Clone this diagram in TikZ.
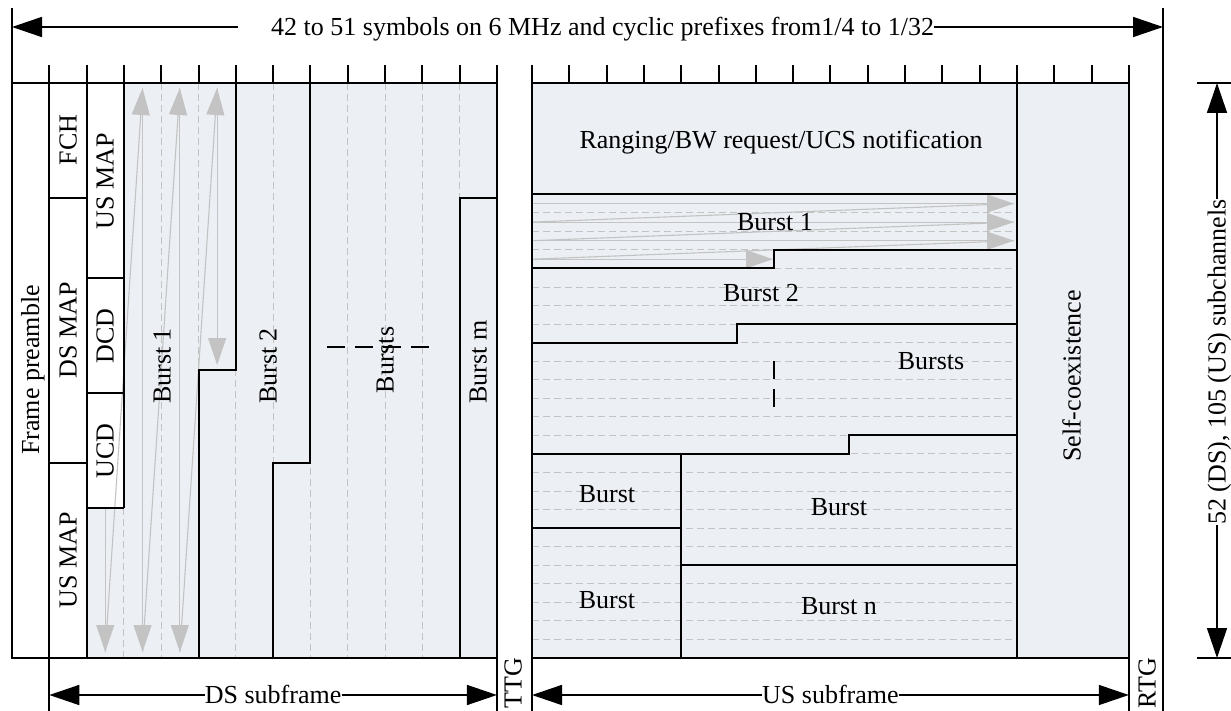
\documentclass[tikz,border=0pt]{standalone}
\usepackage{fontspec}
\setmainfont{Liberation Serif}
\usetikzlibrary{arrows.meta}
\definecolor{shadefill}{RGB}{236,239,244}
\definecolor{garrow}{RGB}{195,195,195}
\definecolor{gdash}{RGB}{195,195,195}
\tikzset{
  frame/.style={line width=2pt,black},
  dimarrow/.style={line width=1.6pt,-{Triangle[length=30pt,width=20pt]}},
  garr/.style={draw=garrow,line width=1.1pt,-{Triangle[length=27pt,width=18pt,fill=garrow]}},
  gline/.style={draw=garrow,line width=1.1pt},
  gdashed/.style={draw=gdash,line width=1pt,dash pattern=on 7pt off 4pt},
  bdash/.style={line width=2pt,black},
  lbl/.style={font=\fontsize{26}{31}\selectfont,inner sep=0pt,text height=17pt,text depth=0pt,anchor=center},
  vlbl/.style={lbl,rotate=90},
}
\begin{document}
\begin{tikzpicture}[x=1pt,y=-1pt]
\useasboundingbox (0,0) rectangle (1231,711);
% ---------- shaded areas
\fill[shadefill] (123.9,83) -- (496.9,83) -- (496.9,658) -- (86.6,658) -- (86.6,508) -- (123.9,508) -- cycle;
\fill[shadefill] (532,83) rectangle (1128.8,658);
% ---------- dashed grid
\foreach \i in {4,...,12} \draw[gdashed] ({12+\i*37.3},83) -- ({12+\i*37.3},658);
\draw[gdashed] (123.9,508) -- (123.9,658);
\foreach \k in {7,...,30} \draw[gdashed] (532,{83+\k*18.548}) -- (1016.9,{83+\k*18.548});
% ---------- gray arrows DS burst 1
\coordinate (a0) at (105.25,508);
\coordinate (a1) at (105.25,652);
\coordinate (b0) at (142.55,88);
\coordinate (b1) at (142.55,652);
\coordinate (c0) at (179.85,88);
\coordinate (c1) at (179.85,652);
\coordinate (d0) at (217.15,88);
\coordinate (d1) at (217.15,365);
\draw[garr] (a0) -- (a1);
\draw[garr] (a1) -- (b0);
\draw[garr] (b0) -- (b1);
\draw[garr] (b1) -- (c0);
\draw[garr] (c0) -- (c1);
\draw[garr] (c1) -- (d0);
\draw[garr] (d0) -- (d1);
% ---------- gray arrows US burst 1
\coordinate (r6l) at (532,203.6);   \coordinate (r6r) at (1014,203.6);
\coordinate (r7l) at (532,222.1);   \coordinate (r7r) at (1014,222.1);
\coordinate (r8l) at (532,240.7);   \coordinate (r8r) at (1014,240.7);
\coordinate (r9l) at (532,259.2);   \coordinate (r9r) at (773,259.2);
\draw[garr] (r6l) -- (r6r);
\draw[garr] (r7l) -- (r7r);
\draw[garr] (r8l) -- (r8r);
\draw[garr] (r9l) -- (r9r);
\draw[gline] (r7l) -- (r6r);
\draw[gline] (r8l) -- (r7r);
\draw[gline] (r9l) -- (r8r);
% ---------- DS solid lines
\draw[frame] (12,8) -- (12,658) -- (496.9,658);
\draw[frame] (12,83) -- (496.9,83);
\draw[frame] (49.3,65) -- (49.3,711);
\draw[frame] (86.6,65) -- (86.6,658);
\draw[frame] (123.9,65) -- (123.9,508);
\draw[frame] (496.9,65) -- (496.9,711);
\draw[frame] (49.3,198) -- (86.6,198);
\draw[frame] (49.3,463) -- (86.6,463);
\draw[frame] (86.6,278) -- (123.9,278);
\draw[frame] (86.6,393) -- (123.9,393);
\draw[frame] (86.6,508) -- (123.9,508);
\draw[frame] (235.8,83) -- (235.8,370) -- (198.5,370) -- (198.5,658);
\draw[frame] (310.4,83) -- (310.4,463) -- (273.1,463) -- (273.1,658);
\draw[frame] (459.6,658) -- (459.6,198) -- (496.9,198);
\foreach \i in {0,...,13} \draw[frame] ({12+\i*37.3},65) -- ({12+\i*37.3},83);
% dashes in DS bursts
\draw[bdash] (327,347) -- (345,347);
\draw[bdash] (355,347) -- (373,347);
\draw[bdash] (383,347) -- (401,347);
\draw[bdash] (411,347) -- (429,347);
% ---------- US solid lines
\draw[frame] (532,65) -- (532,711);
\draw[frame] (1128.8,65) -- (1128.8,711);
\draw[frame] (532,83) -- (1128.8,83);
\draw[frame] (532,658) -- (1128.8,658);
\draw[frame] (1016.9,83) -- (1016.9,658);
\draw[frame] (532,194.3) -- (1016.9,194.3);
\draw[frame] (532,268.5) -- (774.45,268.5) -- (774.45,249.9) -- (1016.9,249.9);
\draw[frame] (532,342.7) -- (737.15,342.7) -- (737.15,324.1) -- (1016.9,324.1);
\draw[frame] (532,454) -- (849.05,454) -- (849.05,435.4) -- (1016.9,435.4);
\draw[frame] (532,528.2) -- (681.2,528.2);
\draw[frame] (681.2,454) -- (681.2,658);
\draw[frame] (681.2,565.3) -- (1016.9,565.3);
\foreach \j in {0,...,16} \draw[frame] ({532+\j*37.3},65) -- ({532+\j*37.3},83);
\draw[bdash] (774.45,361) -- (774.45,379);
\draw[bdash] (774.45,389) -- (774.45,407);
% ---------- outer lines
\draw[frame] (1163,8) -- (1163,711);
\draw[frame] (1197,83) -- (1231,83);
\draw[frame] (1197,658) -- (1231,658);
% ---------- DS labels
\node[vlbl] (fp) at (30.6,370) {Frame preamble};
\node[vlbl] (fch) at (68,140) {FCH};
\node[vlbl] (dsmap) at (68,330) {DS MAP};
\node[vlbl] (usmapa) at (68,560) {US MAP};
\node[vlbl] (usmapb) at (105.2,181) {US MAP};
\node[vlbl] (dcd) at (105.2,336) {DCD};
\node[vlbl] (ucd) at (105.2,451) {UCD};
\node[vlbl] (dsb1) at (162,366) {Burst 1};
\node[vlbl] (dsb2) at (268,366) {Burst 2};
\node[vlbl] (dsbs) at (385,360) {Bursts};
\node[vlbl] (dsbm) at (478,362) {Burst m};
% ---------- US labels
\node[lbl] (rng) at (781,140) {Ranging/BW request/UCS notification};
\node[lbl] (usb1) at (775,222) {Burst 1};
\node[lbl] (usb2) at (761,293) {Burst 2};
\node[lbl] (usbs) at (931,361) {Bursts};
\node[lbl] (usba) at (607,494) {Burst};
\node[lbl] (usbb) at (839,507) {Burst};
\node[lbl] (usbc) at (607,600) {Burst};
\node[lbl] (usbn) at (839,606) {Burst n};
\node[vlbl] (selfc) at (1072,376) {Self-coexistence};
% ---------- gap labels
\node[vlbl] (ttg) at (513,683) {TTG};
\node[vlbl] (rtg) at (1147,683) {RTG};
% ---------- dimension arrows
\node[lbl,anchor=west] (toplbl) at (271,27) {42 to 51 symbols on 6 MHz and cyclic prefixes from1/4 to 1/32};
\coordinate (tl) at (238,27);
\coordinate (tlend) at (12,27);
\coordinate (trend) at (1163,27);
\draw[dimarrow] (tl) -- (tlend);
\draw[dimarrow] (toplbl.east) -- (trend);
\node[lbl] (dssub) at (273.1,695) {DS subframe};
\coordinate (dsl) at (49.3,695);
\coordinate (dsr) at (496.9,695);
\draw[dimarrow] (dssub.west) -- (dsl);
\draw[dimarrow] (dssub.east) -- (dsr);
\node[lbl] (ussub) at (830.4,695) {US subframe};
\coordinate (usl) at (532,695);
\coordinate (usr) at (1128.8,695);
\draw[dimarrow] (ussub.west) -- (usl);
\draw[dimarrow] (ussub.east) -- (usr);
\node[vlbl] (dimlbl) at (1217,362) {52 (DS), 105 (US) subchannels};
\coordinate (dtop) at (1217,83);
\coordinate (dbot) at (1217,658);
\draw[dimarrow] (dimlbl.east) -- (dtop);
\draw[dimarrow] (dimlbl.west) -- (dbot);
\end{tikzpicture}
\end{document}
